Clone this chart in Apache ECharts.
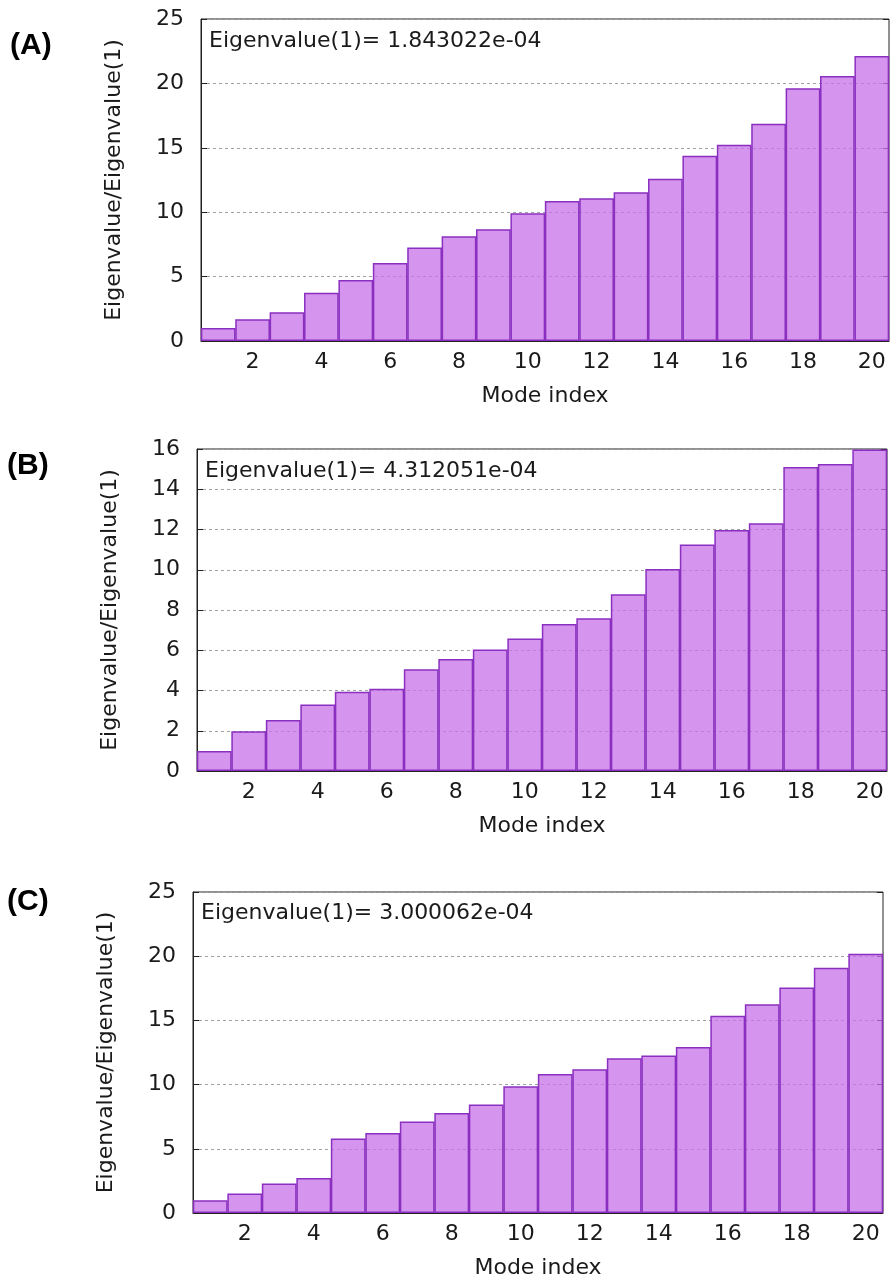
<!DOCTYPE html>
<html>
<head>
<meta charset="utf-8">
<script src="https://cdn.jsdelivr.net/npm/echarts@6/dist/echarts.min.js"></script>
<style>
html,body{margin:0;padding:0;background:#fff;}
#chart{width:891px;height:1283px;}
</style>
</head>
<body>
<div id="chart"></div>
<script>
// ---- Data ----
var modes = ['1','2','3','4','5','6','7','8','9','10','11','12','13','14','15','16','17','18','19','20'];
var ratiosA = [1.0, 1.68, 2.23, 3.75, 4.74, 6.06, 7.25, 8.13, 8.67, 9.91, 10.87, 11.08, 11.54, 12.6, 14.39, 15.24, 16.87, 19.62, 20.58, 22.13];
var ratiosB = [1.0, 1.98, 2.53, 3.31, 3.94, 4.09, 5.06, 5.56, 6.04, 6.59, 7.30, 7.59, 8.78, 10.04, 11.25, 11.97, 12.31, 15.1, 15.25, 15.98];
var ratiosC = [1.0, 1.52, 2.30, 2.72, 5.80, 6.24, 7.12, 7.78, 8.45, 9.88, 10.83, 11.2, 12.05, 12.26, 12.93, 15.37, 16.25, 17.57, 19.1, 20.19];
var panelLabels = ['(A)', '(B)', '(C)'];
var eigenTexts = ['Eigenvalue(1)= 1.843022e-04', 'Eigenvalue(1)= 4.312051e-04', 'Eigenvalue(1)= 3.000062e-04'];
var yMax = [25, 16, 25];
var yInterval = [5, 2, 5];
var xTitle = 'Mode index';
var yTitle = 'Eigenvalue/Eigenvalue(1)';

var FONT = 'DejaVu Sans';
var TXT = '#1a1a1a';
var grids = [
  {left: 201, top: 19, right: 2, height: 322},
  {left: 197, top: 449, right: 4, height: 322},
  {left: 193, top: 892, right: 8, height: 321}
];
var labelPos = [[10, 48], [7, 468], [7, 904]];
var eigenPos = [[209, 41], [205, 471], [201, 913]];
var seriesData = [ratiosA, ratiosB, ratiosC];

var option = {
  backgroundColor: '#fff',
  animation: false,
  grid: grids.map(function (g) {
    return {left: g.left, top: g.top, right: g.right, height: g.height, show: true,
      borderColor: '#222', borderWidth: 1, backgroundColor: 'transparent', containLabel: false};
  }),
  xAxis: [],
  yAxis: [],
  series: [],
  graphic: []
};

for (var i = 0; i < 3; i++) {
  option.xAxis.push({
    type: 'category', gridIndex: i, data: modes, boundaryGap: true,
    name: xTitle, nameLocation: 'middle', nameGap: 44,
    nameTextStyle: {fontFamily: FONT, fontSize: 22, color: TXT},
    axisLine: {show: true, lineStyle: {color: '#222', width: 1}},
    axisTick: {show: false},
    axisLabel: {fontFamily: FONT, fontSize: 22, color: TXT, margin: 10,
      interval: function (idx) { return idx % 2 === 1; }},
    splitLine: {show: false}
  });
  option.yAxis.push({
    type: 'value', gridIndex: i, min: 0, max: yMax[i], interval: yInterval[i],
    name: yTitle, nameLocation: 'middle', nameGap: 76, nameRotate: 90,
    nameTextStyle: {fontFamily: FONT, fontSize: 22, color: TXT},
    axisLine: {show: true, lineStyle: {color: '#222', width: 1}},
    axisTick: {show: true, inside: true, length: 6, lineStyle: {color: '#222'}},
    axisLabel: {fontFamily: FONT, fontSize: 22, color: TXT, margin: 17},
    splitLine: {show: true, lineStyle: {color: '#a0a0a0', type: [3, 3], width: 1}}
  });
  option.yAxis.push({
    type: 'value', gridIndex: i, min: 0, max: yMax[i], interval: yInterval[i], position: 'right',
    axisLine: {show: false},
    axisTick: {show: true, inside: true, length: 6, lineStyle: {color: '#222'}},
    axisLabel: {show: false},
    splitLine: {show: false}
  });
  option.series.push({
    type: 'bar', xAxisIndex: i, yAxisIndex: i * 2, data: seriesData[i],
    barCategoryGap: '0%', barWidth: '101%',
    itemStyle: {color: 'rgba(200,114,232,0.76)', borderColor: '#8a2fc0', borderWidth: 1.5}
  });
  option.graphic.push({
    type: 'text', left: labelPos[i][0], top: labelPos[i][1] - 17,
    style: {text: panelLabels[i], font: 'bold 30px "Liberation Sans", Arial, sans-serif', fill: '#000'}
  });
  option.graphic.push({
    type: 'text', x: eigenPos[i][0], y: eigenPos[i][1],
    style: {text: eigenTexts[i], font: '22px "DejaVu Sans"', fill: TXT, textVerticalAlign: 'middle'}
  });
}

var chart = echarts.init(document.getElementById('chart'), null, {renderer: 'canvas'});
chart.setOption(option);
</script>
</body>
</html>
